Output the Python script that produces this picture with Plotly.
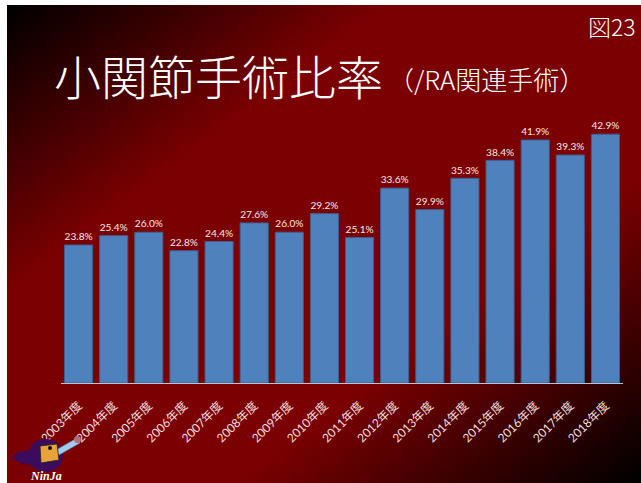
import base64, struct, zlib
import numpy as np
import plotly.graph_objects as go

# ---- data ----
years = ["2003年度", "2004年度", "2005年度", "2006年度", "2007年度", "2008年度",
         "2009年度", "2010年度", "2011年度", "2012年度", "2013年度", "2014年度",
         "2015年度", "2016年度", "2017年度", "2018年度"]
ratio = [23.8, 25.4, 26.0, 22.8, 24.4, 27.6, 26.0, 29.2, 25.1, 33.6, 29.9, 35.3,
         38.4, 41.9, 39.3, 42.9]
labels = [f"{v:.1f}%" for v in ratio]

title_main = "小関節手術比率"
title_sub = "（/RA関連手術）"
fig_no = "図23"

# ---- geometry ----
FW, FH = 641, 483
ML, MR, MT, MB = 61, 18, 122, 100
PW = FW - ML - MR
PH = FH - MT - MB


def px(x):
    return (x - ML) / PW


def py(y):
    return (FH - MB - y) / PH


# ---- gradient background image (PNG built by hand) ----
W, H = 634, 478
ys, xs = np.mgrid[0:H, 0:W]
t = (xs / (W - 1) + ys / (H - 1)) / 2
f = np.clip(np.minimum(t / 0.30, (1 - t) / 0.32), 0, 1)
img = np.zeros((H, W, 3), dtype=np.uint8)
img[..., 0] = (123 * f).astype(np.uint8)
img[..., 2] = (2 * f).astype(np.uint8)


def make_png(arr):
    h, w, _ = arr.shape
    raw = b"".join(b"\x00" + arr[i].tobytes() for i in range(h))

    def chunk(tag, data):
        c = tag + data
        return struct.pack(">I", len(data)) + c + struct.pack(">I", zlib.crc32(c) & 0xffffffff)

    return (b"\x89PNG\r\n\x1a\n"
            + chunk(b"IHDR", struct.pack(">IIBBBBB", w, h, 8, 2, 0, 0, 0))
            + chunk(b"IDAT", zlib.compress(raw, 9))
            + chunk(b"IEND", b""))


bg_uri = "data:image/png;base64," + base64.b64encode(make_png(img)).decode()

latin = "Lato, 'Noto Sans CJK JP', sans-serif"
cjk = "'Noto Sans CJK JP', sans-serif"

fig = go.Figure()
fig.add_trace(go.Bar(
    x=years, y=ratio, text=labels, textposition="outside",
    textfont=dict(color="#f3e8e8", size=11.5, family=latin),
    marker=dict(color="#4F81BD", line=dict(color="#3d5f8f", width=1)),
    cliponaxis=False, hoverinfo="skip",
))

shapes = []
# Ninja logo (approximation)
purple = "#3b0b5c"
shapes.append(dict(type="path", xref="paper", yref="paper",
                   path=f"M {px(33)},{py(452)} Q {px(22)},{py(448)} {px(12)},{py(457)} "
                        f"Q {px(22)},{py(467)} {px(36)},{py(464)} Z",
                   fillcolor=purple, line=dict(width=0)))
shapes.append(dict(type="circle", xref="paper", yref="paper",
                   x0=px(28), x1=px(63), y0=py(439), y1=py(472),
                   fillcolor=purple, line=dict(width=0)))
shapes.append(dict(type="path", xref="paper", yref="paper",
                   path=f"M {px(56)},{py(450)} L {px(77)},{py(438)} L {px(80)},{py(443)} "
                        f"L {px(59)},{py(455)} Z",
                   fillcolor="#9ecbf0", line=dict(color="#5a7aa0", width=0.5)))
shapes.append(dict(type="circle", xref="paper", yref="paper",
                   x0=px(74), x1=px(81), y0=py(436), y1=py(443),
                   fillcolor="#b07080", line=dict(width=0)))
shapes.append(dict(type="path", xref="paper", yref="paper",
                   path=f"M {px(40)},{py(446)} L {px(57)},{py(444)} L {px(59)},{py(460)} "
                        f"L {px(41)},{py(463)} Z",
                   fillcolor="#e8a43a", line=dict(color="#222", width=0.8)))
shapes.append(dict(type="circle", xref="paper", yref="paper",
                   x0=px(48), x1=px(52), y0=py(446), y1=py(450),
                   fillcolor="#111", line=dict(width=0)))

annotations = [
    dict(text=title_main, xref="paper", yref="paper", x=px(52), y=py(74),
         xanchor="left", yanchor="middle", showarrow=False,
         font=dict(size=47, color="white", family=cjk, weight=300)),
    dict(text=title_sub, xref="paper", yref="paper", x=px(386), y=py(79),
         xanchor="left", yanchor="middle", showarrow=False,
         font=dict(size=26, color="white", family=cjk, weight=300)),
    dict(text=fig_no, xref="paper", yref="paper", x=px(638), y=py(26),
         xanchor="right", yanchor="middle", showarrow=False,
         font=dict(size=23, color="white", family=cjk, weight=300)),
    dict(text="<b><i>NinJa</i></b>", xref="paper", yref="paper", x=px(46), y=py(476),
         xanchor="center", yanchor="middle", showarrow=False,
         font=dict(size=12, color="white", family="'Liberation Serif', serif")),
]

fig.update_layout(
    width=FW, height=FH,
    margin=dict(l=ML, r=MR, t=MT, b=MB, pad=0),
    paper_bgcolor="white", plot_bgcolor="rgba(0,0,0,0)",
    bargap=0.2, showlegend=False,
    images=[dict(source=bg_uri, xref="paper", yref="paper",
                 x=px(7), y=py(5), sizex=W / PW, sizey=H / PH,
                 xanchor="left", yanchor="top", sizing="stretch", layer="below")],
    shapes=shapes, annotations=annotations,
    xaxis=dict(type="category", showline=True, linecolor="#b8c4d8", linewidth=1,
               showgrid=False, zeroline=False, ticks="", tickangle=-45,
               ticklabelstandoff=10,
               tickfont=dict(size=12, color="#f0dede", family=latin),
               fixedrange=True),
    yaxis=dict(visible=False, range=[0, 45], fixedrange=True),
)

fig.write_html("out.html")
